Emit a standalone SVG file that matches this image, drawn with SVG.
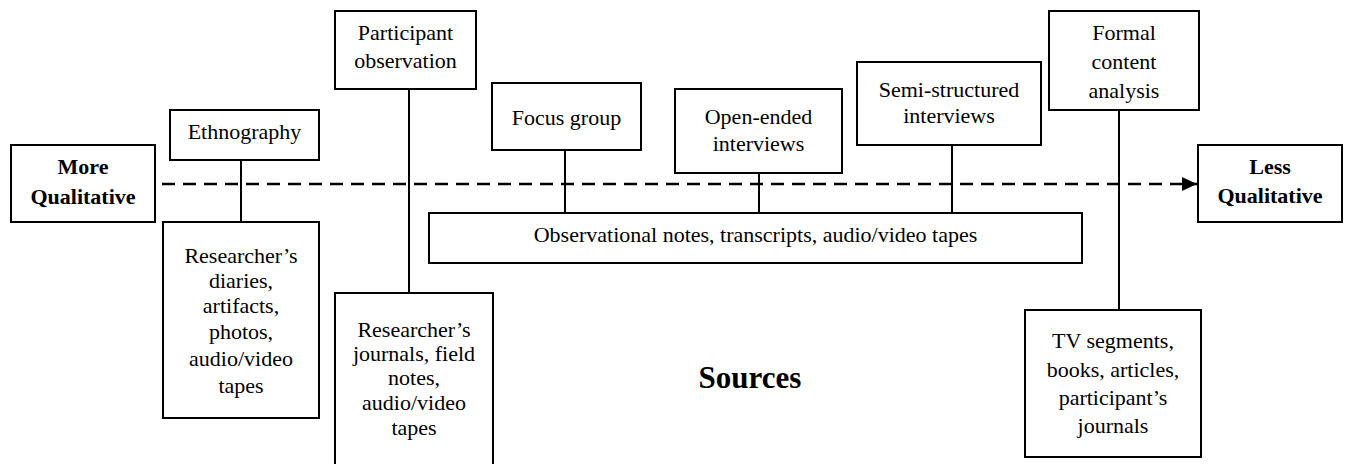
<svg xmlns="http://www.w3.org/2000/svg" width="1349" height="464" viewBox="0 0 1349 464" font-family="'Liberation Serif', 'Times New Roman', serif">
<style>
.box{fill:#fff;stroke:#000;stroke-width:2}
.t{font-family:'Liberation Serif','Times New Roman',serif;font-size:22px;fill:#000;text-anchor:middle}
.b{font-weight:bold}
.ln{stroke:#000;stroke-width:2;fill:none}
.dash{stroke:#000;stroke-width:2.5;stroke-dasharray:13 8;fill:none}
</style>
<defs>
<marker id="arr" markerWidth="15" markerHeight="14" refX="15" refY="7" orient="auto" markerUnits="userSpaceOnUse">
<path d="M0,0 L15,7 L0,14 Z" fill="#000"/>
</marker>
</defs>
<rect width="1349" height="464" fill="#fff"/>
<g id="connectors">
<line class="dash" x1="162" y1="184" x2="1197" y2="184" marker-end="url(#arr)"/>
<line class="ln" x1="241" y1="160" x2="241" y2="222"/>
<line class="ln" x1="409" y1="89" x2="409" y2="293"/>
<line class="ln" x1="565" y1="150" x2="565" y2="213"/>
<line class="ln" x1="759" y1="173" x2="759" y2="213"/>
<line class="ln" x1="952" y1="145" x2="952" y2="213"/>
<line class="ln" x1="1119" y1="110" x2="1119" y2="310"/>
</g>
<g id="more">
<rect class="box" x="11" y="145" width="144" height="77"/>
<text class="t b" x="83" y="174">More</text>
<text class="t b" x="83" y="204">Qualitative</text>
</g>
<g id="less">
<rect class="box" x="1198" y="145" width="144" height="77"/>
<text class="t b" x="1270" y="174">Less</text>
<text class="t b" x="1270" y="203">Qualitative</text>
</g>
<g id="ethnography">
<rect class="box" x="170" y="110" width="149" height="50"/>
<text class="t" x="244.5" y="139">Ethnography</text>
</g>
<g id="diaries">
<rect class="box" x="163" y="222" width="156" height="196"/>
<text class="t" x="241" y="263">Researcher’s</text>
<text class="t" x="241" y="288">diaries,</text>
<text class="t" x="241" y="313">artifacts,</text>
<text class="t" x="241" y="339">photos,</text>
<text class="t" x="241" y="366">audio/video</text>
<text class="t" x="241" y="393">tapes</text>
</g>
<g id="participant">
<rect class="box" x="335" y="11" width="141" height="78"/>
<text class="t" x="405.5" y="40">Participant</text>
<text class="t" x="405.5" y="68">observation</text>
</g>
<g id="journals">
<rect class="box" x="335" y="293" width="158" height="180"/>
<text class="t" x="414" y="337">Researcher’s</text>
<text class="t" x="414" y="361">journals, field</text>
<text class="t" x="414" y="385">notes,</text>
<text class="t" x="414" y="410">audio/video</text>
<text class="t" x="414" y="435">tapes</text>
</g>
<g id="focus">
<rect class="box" x="492" y="83" width="149" height="67"/>
<text class="t" x="566.5" y="125">Focus group</text>
</g>
<g id="openended">
<rect class="box" x="675" y="89" width="167" height="84"/>
<text class="t" x="758.5" y="124">Open-ended</text>
<text class="t" x="758.5" y="151">interviews</text>
</g>
<g id="semi">
<rect class="box" x="857" y="62" width="184" height="83"/>
<text class="t" x="949" y="97">Semi-structured</text>
<text class="t" x="949" y="123">interviews</text>
</g>
<g id="formal">
<rect class="box" x="1049" y="11" width="150" height="99"/>
<text class="t" x="1124" y="40">Formal</text>
<text class="t" x="1124" y="69">content</text>
<text class="t" x="1124" y="98">analysis</text>
</g>
<g id="observational">
<rect class="box" x="429" y="213" width="653" height="50"/>
<text class="t" x="755.5" y="242">Observational notes, transcripts, audio/video tapes</text>
</g>
<g id="tv">
<rect class="box" x="1025" y="310" width="176" height="147"/>
<text class="t" x="1113" y="348">TV segments,</text>
<text class="t" x="1113" y="377">books, articles,</text>
<text class="t" x="1113" y="405">participant’s</text>
<text class="t" x="1113" y="433">journals</text>
</g>
<g id="sources">
<text class="t b" x="750" y="388" style="font-size:31px">Sources</text>
</g>
</svg>
